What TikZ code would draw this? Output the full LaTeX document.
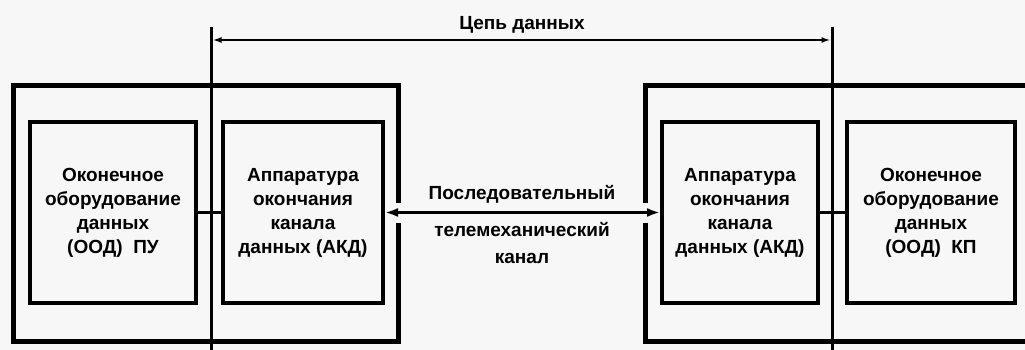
\documentclass[tikz,border=0pt]{standalone}
\usepackage{fontspec}
\setmainfont{Liberation Sans}
\usetikzlibrary{arrows.meta}
\begin{document}
\begin{tikzpicture}[x=1pt,y=-1pt,
  inner/.style={draw,line width=4pt,minimum width=#1,minimum height=180pt,inner sep=0pt,align=center,
     font=\fontsize{19}{24}\selectfont\bfseries},
  outer/.style={line width=5pt},
  vline/.style={line width=3pt},
  conn/.style={line width=2.5pt},
  lbl/.style={inner sep=0pt,font=\fontsize{19}{24}\selectfont\bfseries}]
\useasboundingbox[fill=white!97!black] (0,0) rectangle (1025,350);
\clip (0,0) rectangle (1025,350);
% outer boxes
\draw[outer] (398,203) -- (398,86) -- (13,86) -- (13,341) -- (398,341) -- (398,223);
\draw[outer] (645,203) -- (645,86) -- (1040,86);
\draw[outer] (1040,341) -- (645,341) -- (645,223);
% inner boxes
\node[inner=166pt] (oodL) at (113,212.5) {Оконечное\\оборудование\\данных\\(ООД)\ \ ПУ};
\node[inner=160pt] (akdL) at (303,212.5) {Аппаратура\\окончания\\канала\\данных (АКД)};
\node[inner=156pt] (akdR) at (740,212.5) {Аппаратура\\окончания\\канала\\данных (АКД)};
\node[inner=168pt] (oodR) at (931,212.5) {Оконечное\\оборудование\\данных\\(ООД)\ \ КП};
% vertical boundary lines
\coordinate (vLt) at (211,27);
\coordinate (vLb) at (211,360);
\coordinate (vRt) at (832,27);
\coordinate (vRb) at (832,360);
\draw[vline] (vLt) -- (vLb);
\draw[vline] (vRt) -- (vRb);
% data circuit arrow
\coordinate (cL) at (212.5,40);
\coordinate (cR) at (830.5,40);
\draw[conn,{Latex[length=9pt,width=6pt]}-{Latex[length=9pt,width=6pt]}] (cL) -- (cR);
\node[lbl] (chain) at (522,25) {Цепь данных};
% connectors
\draw[conn] (oodL.east) -- (akdL.west);
\draw[conn] (akdR.east) -- (oodR.west);
\draw[conn,{Latex[length=13pt,width=9pt]}-{Latex[length=13pt,width=9pt]}] (akdL.east) -- (akdR.west);
\node[lbl] (ch1) at (522,194) {Последовательный};
\node[lbl] (ch2) at (522,230) {телемеханический};
\node[lbl] (ch3) at (522,258) {канал};
\end{tikzpicture}
\end{document}
